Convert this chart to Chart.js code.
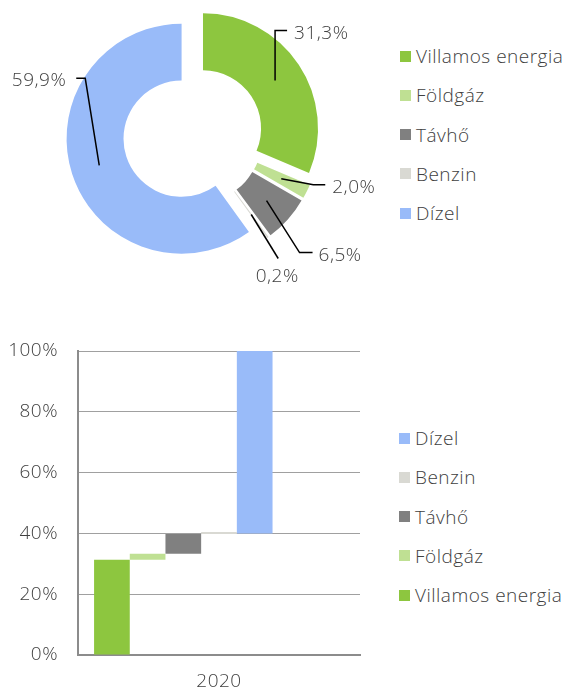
<!DOCTYPE html>
<html lang="hu">
<head>
  <meta charset="UTF-8">
  <title>Energiahordozók megoszlása, 2020</title>
  <script src="https://cdn.jsdelivr.net/npm/chart.js"></script>
  <style>
    body {
      margin: 0;
      background: #fff;
      font-family: 'Open Sans', sans-serif;
      font-weight: 300;
      color: #404040;
    }
    #wrap {
      position: relative;
      width: 568px;
      height: 691px;
    }
    #pieChart {
      position: absolute;
      left: 0;
      top: 0;
    }
    #barChart {
      position: absolute;
      left: 0;
      top: 330px;
    }
    .legend {
      position: absolute;
    }
    .legend-item {
      position: absolute;
      left: 0;
      height: 20px;
      display: flex;
      align-items: center;
      font-size: 19px;
      letter-spacing: 0.5px;
      white-space: nowrap;
    }
    .legend-color {
      width: 11px;
      height: 11px;
      margin-right: 5px;
      display: inline-block;
    }
  </style>
</head>
<body>
  <div id="wrap">
    <canvas id="pieChart" width="400" height="300"></canvas>
    <canvas id="barChart" width="370" height="361"></canvas>
    <div class="legend" id="pieLegend" style="left: 400px; top: 46px;"></div>
    <div class="legend" id="barLegend" style="left: 399px; top: 428px;"></div>
  </div>

  <script>
    // Data
    const fuels = ['Villamos energia', 'Földgáz', 'Távhő', 'Benzin', 'Dízel'];
    const shares2020 = [31.3, 2.0, 6.5, 0.2, 59.9];
    // floating bars of the waterfall (from / to, %)
    const barLow = [0, 31.3, 33.3, 39.8, 40.0];
    const barHigh = [31.3, 33.3, 39.8, 40.0, 100];
    const years = ['2020'];
    const pctTicks = [0, 20, 40, 60, 80, 100];

    const fuelColors = ['#8dc63f', '#bfe093', '#808080', '#d9d9d3', '#99bbf9'];
    const textColor = '#404040';

    // every slice pulled out from the centre by this many px
    const explode = 12;
    // leader lines: elbow offset from slice centre, tail length, text offset from line end
    const labelLayout = [
      { elbow: [0, -50], tail: 12, text: [7, 9], align: 'left' },
      { elbow: [32, 6], tail: 12, text: [7, 8], align: 'left' },
      { elbow: [33, 52], tail: 13, text: [6, 8], align: 'left' },
      { elbow: [27, 44], tail: 0, text: [-1, 24], align: 'center' },
      { elbow: [-14, -87], tail: -9, text: [-10, 8], align: 'right' }
    ];

    Chart.defaults.font.family = "'Open Sans', sans-serif";
    Chart.defaults.font.weight = 300;
    Chart.defaults.font.size = 19;
    Chart.defaults.color = textColor;

    const fmtPct = v => v.toFixed(1).replace('.', ',') + '%';

    // slightly wider text, closer to the original typeface
    const spacingPlugin = {
      id: 'spacing',
      beforeDraw(chart) { chart.ctx.letterSpacing = '0.5px'; }
    };

    // draws the arcs shifted outwards, then the leader lines and labels
    const explodePlugin = {
      id: 'explode',
      beforeDatasetDraw(chart, args) {
        const ctx = chart.ctx;
        args.meta.data.forEach(arc => {
          const mid = (arc.startAngle + arc.endAngle) / 2;
          ctx.save();
          ctx.translate(Math.cos(mid) * explode, Math.sin(mid) * explode);
          arc.draw(ctx);
          ctx.restore();
        });
        return false;
      },
      afterDatasetsDraw(chart) {
        const ctx = chart.ctx;
        const meta = chart.getDatasetMeta(0);
        ctx.save();
        ctx.strokeStyle = '#000';
        ctx.lineWidth = 1.5;
        ctx.fillStyle = textColor;
        ctx.font = "300 19px 'Open Sans', sans-serif";
        ctx.letterSpacing = '0.5px';
        ctx.textBaseline = 'alphabetic';
        meta.data.forEach((arc, i) => {
          const lay = labelLayout[i];
          const mid = (arc.startAngle + arc.endAngle) / 2;
          const c = arc.getCenterPoint();
          const sx = c.x + Math.cos(mid) * explode;
          const sy = c.y + Math.sin(mid) * explode;
          const ex = sx + lay.elbow[0];
          const ey = sy + lay.elbow[1];
          ctx.beginPath();
          ctx.moveTo(sx, sy);
          ctx.lineTo(ex, ey);
          ctx.lineTo(ex + lay.tail, ey);
          ctx.stroke();
          ctx.textAlign = lay.align;
          ctx.fillText(fmtPct(shares2020[i]), ex + lay.tail + lay.text[0], ey + lay.text[1]);
        });
        ctx.restore();
      }
    };

    new Chart(document.getElementById('pieChart'), {
      type: 'doughnut',
      data: {
        labels: fuels,
        datasets: [{
          data: shares2020,
          backgroundColor: fuelColors,
          borderWidth: 0
        }]
      },
      options: {
        responsive: false,
        animation: false,
        radius: 115,
        cutout: '50.5%',
        layout: { padding: { left: 0, right: 14, top: 0, bottom: 30 } },
        plugins: {
          legend: { display: false },
          tooltip: { enabled: false }
        }
      },
      plugins: [explodePlugin]
    });

    // bar chart: 5 floating bars + 2 empty slots, as in the original
    const barSets = fuels.map((name, i) => ({
      label: name,
      data: [[barLow[i], barHigh[i]]],
      backgroundColor: fuelColors[i],
      minBarLength: i === 3 ? 2 : 0
    }));
    barSets.push({ label: '', data: [null] }, { label: '', data: [null] });

    new Chart(document.getElementById('barChart'), {
      type: 'bar',
      data: { labels: years, datasets: barSets },
      options: {
        responsive: false,
        animation: false,
        layout: { padding: { left: 0, right: 10, top: 21, bottom: 0 } },
        datasets: {
          bar: { barPercentage: 1, categoryPercentage: 0.886 }
        },
        scales: {
          x: {
            grid: { display: false, drawTicks: false },
            border: { color: '#8c8c8c', width: 2 },
            ticks: { padding: 15 },
            afterFit: s => { s.height = 36; }
          },
          y: {
            min: 0,
            max: 100,
            afterBuildTicks: s => { s.ticks = pctTicks.map(v => ({ value: v })); },
            ticks: { padding: 20, callback: v => v + '%' },
            grid: { color: '#a0a0a0', lineWidth: 1, drawTicks: false },
            border: { color: '#8c8c8c', width: 2 },
            afterFit: s => {
              s.width = 78;
              s.paddingTop = 0;
              s.paddingBottom = 0;
            }
          }
        },
        plugins: {
          legend: { display: false },
          tooltip: { enabled: false }
        }
      },
      plugins: [spacingPlugin]
    });

    // Legends
    function buildLegend(el, order) {
      order.forEach((i, k) => {
        const item = document.createElement('div');
        item.className = 'legend-item';
        item.style.top = (k * 39.3) + 'px';
        item.innerHTML = `<span class="legend-color" style="background-color: ${fuelColors[i]}"></span>${fuels[i]}`;
        el.appendChild(item);
      });
    }
    buildLegend(document.getElementById('pieLegend'), [0, 1, 2, 3, 4]);
    buildLegend(document.getElementById('barLegend'), [4, 3, 2, 1, 0]);
  </script>
</body>
</html>
